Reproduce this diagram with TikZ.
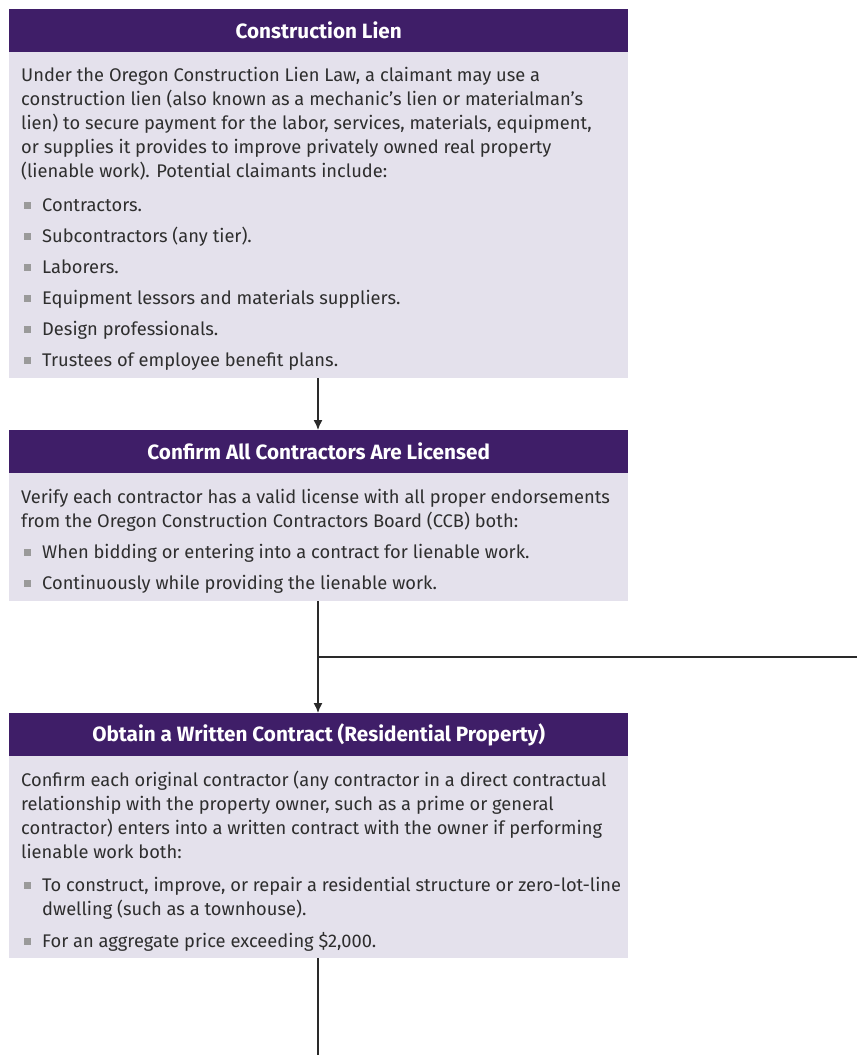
\documentclass[tikz,border=0pt]{standalone}
\usepackage{fontspec}
\setmainfont{Fira Sans}
\usetikzlibrary{arrows.meta}
\definecolor{hdr}{HTML}{3F1E68}
\definecolor{bodyc}{HTML}{E4E1EC}
\definecolor{bul}{HTML}{9A9A9A}
\definecolor{txtc}{HTML}{2E2E2E}
\definecolor{linec}{HTML}{2A2A2A}
\tikzset{
  hdrbox/.style={fill=hdr, draw=none, inner sep=0pt, minimum width=619pt, minimum height=43pt, anchor=north west,
    text=white, font=\fontsize{20.7}{22}\selectfont\bfseries},
  bodybox/.style={fill=bodyc, draw=none, inner sep=0pt, minimum width=619pt, anchor=north west},
  txt/.style={anchor=base west, inner sep=0pt, text=txtc, font=\fontsize{18.3}{22}\selectfont},
  bsq/.style={fill=bul, draw=none, inner sep=0pt, minimum size=7pt},
  conn/.style={draw=linec, line width=1.4pt},
  arr/.style={conn, -{Latex[length=10pt,width=9pt]}}
}
\begin{document}
\begin{tikzpicture}[x=1pt,y=-1pt]
\useasboundingbox (0,0) rectangle (857,1055);
% Box 1
\node[bodybox, minimum height=326pt] (b1) at (9,52) {};
\node[hdrbox] (h1) at (9,9) {Construction Lien};
\node[txt] (t11) at (21,81) {Under the Oregon Construction Lien Law, a claimant may use a};
\node[txt] (t12) at (21,105) {construction lien (also known as a mechanic’s lien or materialman’s};
\node[txt] (t13) at (21,129) {lien) to secure payment for the labor, services, materials, equipment,};
\node[txt] (t14) at (21,153) {or supplies it provides to improve privately owned real property};
\node[txt] (t15) at (21,177) {(lienable work). Potential claimants include:};
\foreach \y/\t [count=\i] in {211/Contractors., 242/Subcontractors (any tier)., 273/Laborers., 304/Equipment lessors and materials suppliers., 335/Design professionals., 366/Trustees of employee benefit plans.}{
  \node[bsq] (q1\i) at (27.5,\y-5.5) {};
  \node[txt] (u1\i) at (42,\y) {\t};
}
% Box 2
\node[bodybox, minimum height=128pt] (b2) at (9,473) {};
\node[hdrbox] (h2) at (9,430) {Confirm All Contractors Are Licensed};
\node[txt] (t21) at (21,503) {Verify each contractor has a valid license with all proper endorsements};
\node[txt] (t22) at (21,527) {from the Oregon Construction Contractors Board (CCB) both:};
\foreach \y/\t [count=\i] in {558/When bidding or entering into a contract for lienable work., 589/Continuously while providing the lienable work.}{
  \node[bsq] (q2\i) at (27.5,\y-5.5) {};
  \node[txt] (u2\i) at (42,\y) {\t};
}
% Box 3
\node[bodybox, minimum height=202pt] (b3) at (9,756) {};
\node[hdrbox] (h3) at (9,713) {Obtain a Written Contract (Residential Property)};
\node[txt] (t31) at (21,786) {Confirm each original contractor (any contractor in a direct contractual};
\node[txt] (t32) at (21,810) {relationship with the property owner, such as a prime or general};
\node[txt] (t33) at (21,834) {contractor) enters into a written contract with the owner if performing};
\node[txt] (t34) at (21,858) {lienable work both:};
\node[bsq] (q31) at (27.5,885.5) {};
\node[txt] (u31) at (42,891) {To construct, improve, or repair a residential structure or zero-lot-line};
\node[txt] (u31b) at (42,915) {dwelling (such as a townhouse).};
\node[bsq] (q32) at (27.5,941.5) {};
\node[txt] (u32) at (42,947) {For an aggregate price exceeding \$2,000.};
% connectors
\coordinate (j) at (318,657);
\coordinate (r) at (857,657);
\coordinate (bot) at (318,1055);
\draw[arr] (b1.south -| j) -- (h2.north -| j);
\draw[arr] (b2.south -| j) -- (h3.north -| j);
\draw[conn] (j) -- (r);
\draw[conn] (b3.south -| j) -- (bot);
\end{tikzpicture}
\end{document}
